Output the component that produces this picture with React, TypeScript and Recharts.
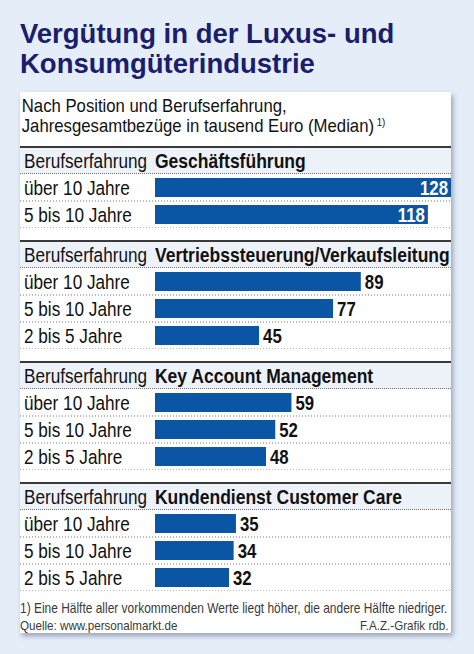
import React from 'react';
import { BarChart, Bar, XAxis, YAxis, LabelList } from 'recharts';

const positions = ['Geschäftsführung', 'Vertriebssteuerung/Verkaufsleitung', 'Key Account Management', 'Kundendienst Customer Care'];
const experienceTwo = ['über 10 Jahre', '5 bis 10 Jahre'];
const experienceThree = ['über 10 Jahre', '5 bis 10 Jahre', '2 bis 5 Jahre'];
const geschaeftsfuehrung = [128, 118];
const vertrieb = [89, 77, 45];
const keyAccount = [59, 52, 48];
const kundendienst = [35, 34, 32];

// no condensed face installed, so squeeze Liberation Sans horizontally
const SANS = "'Liberation Sans', Arial, sans-serif";
const SQ = 0.88;
const BAR = '#0b56a4';
const ROW = 27;
const W = 431;

const sections = [
  { title: positions[0], labels: experienceTwo, values: geschaeftsfuehrung },
  { title: positions[1], labels: experienceThree, values: vertrieb },
  { title: positions[2], labels: experienceThree, values: keyAccount },
  { title: positions[3], labels: experienceThree, values: kundendienst },
];

const RowTick = (props: any) => {
  const { y, payload } = props;
  return (
    <g>
      <text transform={`translate(4,${y + 7}) scale(${SQ},1)`} fontSize={19.5} fontFamily={SANS} fill="#111" textAnchor="start">
        {payload.value}
      </text>
      <line x1={0} x2={W} y1={y + ROW / 2} y2={y + ROW / 2} stroke="#777" strokeDasharray="1 2" />
    </g>
  );
};

const ValueLabel = (props: any) => {
  const { x, y, width, height, value } = props;
  const inside = value >= 100;
  const tx = inside ? x + width - 3 : x + width + 4;
  return (
    <text
      transform={`translate(${tx},${y + height / 2 + 7}) scale(0.84,1)`}
      fontSize={20}
      fontWeight="bold"
      fontFamily={SANS}
      fill={inside ? '#fff' : '#111'}
      textAnchor={inside ? 'end' : 'start'}
    >
      {value}
    </text>
  );
};

function Section({ title, labels, values }: { title: string; labels: string[]; values: number[] }) {
  const data = labels.map((label, i) => ({ label, value: values[i] }));
  return (
    <div style={{ borderTop: '2px solid #3a3a3a', marginBottom: 12 }}>
      <div style={{ height: 25, borderBottom: '1px dotted #777', background: '#edf2f9', overflow: 'hidden' }}>
        <div
          style={{
            transform: `scaleX(${SQ})`,
            transformOrigin: 'left top',
            width: W / SQ,
            lineHeight: '27px',
            fontFamily: SANS,
            fontSize: 19.5,
            color: '#111',
            paddingLeft: 4 / SQ,
            whiteSpace: 'nowrap',
          }}
        >
          <span style={{ display: 'inline-block', width: 131 / SQ }}>Berufserfahrung</span>
          <b style={{ fontSize: 19.9 }}>{title}</b>
        </div>
      </div>
      <BarChart width={W} height={labels.length * ROW} data={data} layout="vertical" margin={{ top: 0, right: 0, bottom: 0, left: 0 }}>
        <XAxis type="number" domain={[0, 128]} hide />
        <YAxis type="category" dataKey="label" width={135} axisLine={false} tickLine={false} tick={<RowTick />} />
        <Bar dataKey="value" fill={BAR} barSize={19} isAnimationActive={false}>
          <LabelList dataKey="value" content={<ValueLabel />} />
        </Bar>
      </BarChart>
    </div>
  );
}

export default function App() {
  return (
    <div style={{ position: 'absolute', left: 0, top: 0, width: 474, height: 654, background: '#e5edf9', overflow: 'hidden' }}>
      <div
        style={{
          position: 'absolute',
          left: 20,
          top: 19,
          fontFamily: SANS,
          fontWeight: 'bold',
          fontSize: 27.5,
          lineHeight: '30px',
          color: '#1b1d6d',
          whiteSpace: 'nowrap',
        }}
      >
        Vergütung in der Luxus- und
        <br />
        Konsumgüterindustrie
      </div>
      <div
        style={{
          position: 'absolute',
          left: 20,
          top: 92,
          width: W,
          height: 541,
          background: '#fff',
          boxShadow: '2px 3px 5px rgba(60,70,110,0.45)',
        }}
      >
        <div style={{ height: 54, overflow: 'hidden' }}>
          <div
            style={{
              transform: `scaleX(${SQ})`,
              transformOrigin: 'left top',
              width: W / SQ,
              fontFamily: SANS,
              fontSize: 19,
              lineHeight: '20px',
              color: '#111',
              padding: '4px 0 0 2px',
              whiteSpace: 'nowrap',
            }}
          >
            Nach Position und Berufserfahrung,
            <br />
            Jahresgesamtbezüge in tausend Euro (Median)
            <sup style={{ fontSize: 11, verticalAlign: 'top', lineHeight: '12px', marginLeft: 3 }}>1)</sup>
          </div>
        </div>
        {sections.map((s) => (
          <Section key={s.title} title={s.title} labels={s.labels} values={s.values} />
        ))}
        <div
          style={{
            transform: 'scaleX(0.86)',
            transformOrigin: 'left top',
            width: W / 0.86,
            fontFamily: SANS,
            fontSize: 13.9,
            lineHeight: '17px',
            color: '#3a3a3a',
            marginTop: -3,
            whiteSpace: 'nowrap',
          }}
        >
          1) Eine Hälfte aller vorkommenden Werte liegt höher, die andere Hälfte niedriger.
          <div style={{ display: 'flex', justifyContent: 'space-between', paddingRight: 3, fontSize: 13.5 }}>
            <span>Quelle: www.personalmarkt.de</span>
            <span>F.A.Z.-Grafik rdb.</span>
          </div>
        </div>
      </div>
    </div>
  );
}
